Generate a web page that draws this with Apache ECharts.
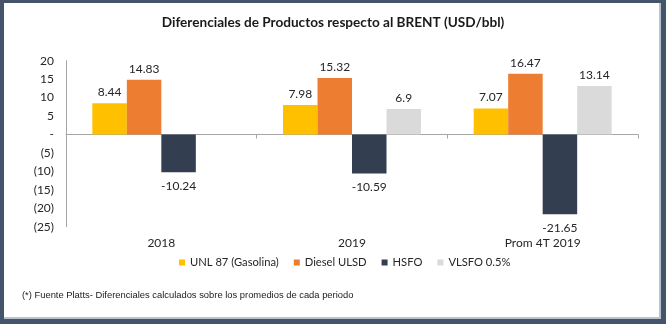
<!DOCTYPE html>
<html>
<head>
<meta charset="utf-8">
<script src="https://cdn.jsdelivr.net/npm/echarts@6/dist/echarts.min.js"></script>
<style>
  html, body { margin: 0; padding: 0; background: #ffffff; }
  #chart { width: 666px; height: 324px; }
</style>
</head>
<body>
<div id="chart"></div>
<script>
// Periods on the category axis
const periods = ['2018', '2019', 'Prom 4T 2019'];

// Differential vs BRENT, USD/bbl
const unl87 = [8.44, 7.98, 7.07];
const dieselUlsd = [14.83, 15.32, 16.47];
const hsfo = [-10.24, -10.59, -21.65];
const vlsfo = [null, 6.9, 13.14];

const seriesNames = ['UNL 87 (Gasolina)', 'Diesel ULSD', 'HSFO', 'VLSFO 0.5%'];
const seriesColors = ['#FFC000', '#ED7D31', '#333F50', '#DADADA'];

const yMin = -25, yMax = 20, yStep = 5;

const FONT = 'Lato, "Open Sans", sans-serif';

function toItems(values) {
  return values.map(v => {
    if (v === null) return '-';
    return {
      value: v,
      label: { position: v < 0 ? 'bottom' : 'top', distance: v < 0 ? 8 : 5 }
    };
  });
}

const allValues = [unl87, dieselUlsd, hsfo, vlsfo];

const series = allValues.map((vals, i) => ({
  name: seriesNames[i],
  type: 'bar',
  xAxisIndex: 0,
  barWidth: 34.5,
  barGap: '0%',
  itemStyle: { color: seriesColors[i] },
  label: {
    show: true,
    fontFamily: FONT,
    fontSize: 12,
    color: '#262626',
    formatter: p => String(p.value)
  },
  data: toItems(vals)
}));

const chart = echarts.init(document.getElementById('chart'), null, { renderer: 'canvas' });

chart.setOption({
  backgroundColor: '#ffffff',
  animation: false,
  title: {
    text: 'Diferenciales de Productos respecto al BRENT (USD/bbl)',
    left: 'center',
    top: 11,
    textStyle: { fontFamily: FONT, fontSize: 13.6, fontWeight: 'bold', color: '#1a1a1a' }
  },
  legend: {
    data: seriesNames,
    left: 174,
    top: 252,
    itemWidth: 6,
    itemHeight: 6,
    itemGap: 15,
    icon: 'rect',
    textStyle: { fontFamily: FONT, fontSize: 11.2, color: '#262626' }
  },
  grid: { left: 66, right: 28, top: 60.7, height: 166, containLabel: false },
  xAxis: [
    {
      type: 'category',
      data: periods,
      position: 'bottom',
      axisLine: { show: false, onZero: false },
      axisTick: { show: false },
      axisLabel: { fontFamily: FONT, fontSize: 12, color: '#262626', margin: 10 }
    },
    {
      type: 'category',
      data: periods,
      position: 'top',
      axisLine: { show: true, onZero: true, lineStyle: { color: '#A6A6A6', width: 1 } },
      axisTick: { show: true, inside: true, length: 4, lineStyle: { color: '#A6A6A6' } },
      axisLabel: { show: false }
    }
  ],
  yAxis: {
    type: 'value',
    min: yMin,
    max: yMax,
    interval: yStep,
    axisLine: { show: true, lineStyle: { color: '#A6A6A6', width: 1 } },
    axisTick: { show: false },
    splitLine: { show: false },
    axisLabel: {
      fontFamily: FONT,
      fontSize: 12,
      color: '#262626',
      margin: 12,
      formatter: v => v === 0 ? '-' : (v < 0 ? '(' + Math.abs(v) + ')' : String(v))
    }
  },
  graphic: [
    // footnote
    {
      type: 'text',
      left: 22,
      top: 291,
      style: {
        text: '(*) Fuente Platts- Diferenciales calculados sobre los promedios de cada periodo',
        font: '9.4px "Liberation Sans", Arial, sans-serif',
        fill: '#1a1a1a'
      }
    },
    // frame
    { type: 'rect', shape: { x: 0, y: 0, width: 4, height: 324 }, style: { fill: '#44546A' } },
    { type: 'rect', shape: { x: 0, y: 0, width: 666, height: 3 }, style: { fill: '#44546A' } },
    { type: 'rect', shape: { x: 661, y: 0, width: 5, height: 324 }, style: { fill: '#44546A' } },
    { type: 'rect', shape: { x: 0, y: 319, width: 666, height: 5 }, style: { fill: '#44546A' } },
    { type: 'rect', shape: { x: 659, y: 3, width: 2, height: 316 }, style: { fill: '#B9C3D0' } },
    { type: 'rect', shape: { x: 4, y: 317, width: 657, height: 2 }, style: { fill: '#B9C3D0' } }
  ],
  series: series
});
</script>
</body>
</html>
